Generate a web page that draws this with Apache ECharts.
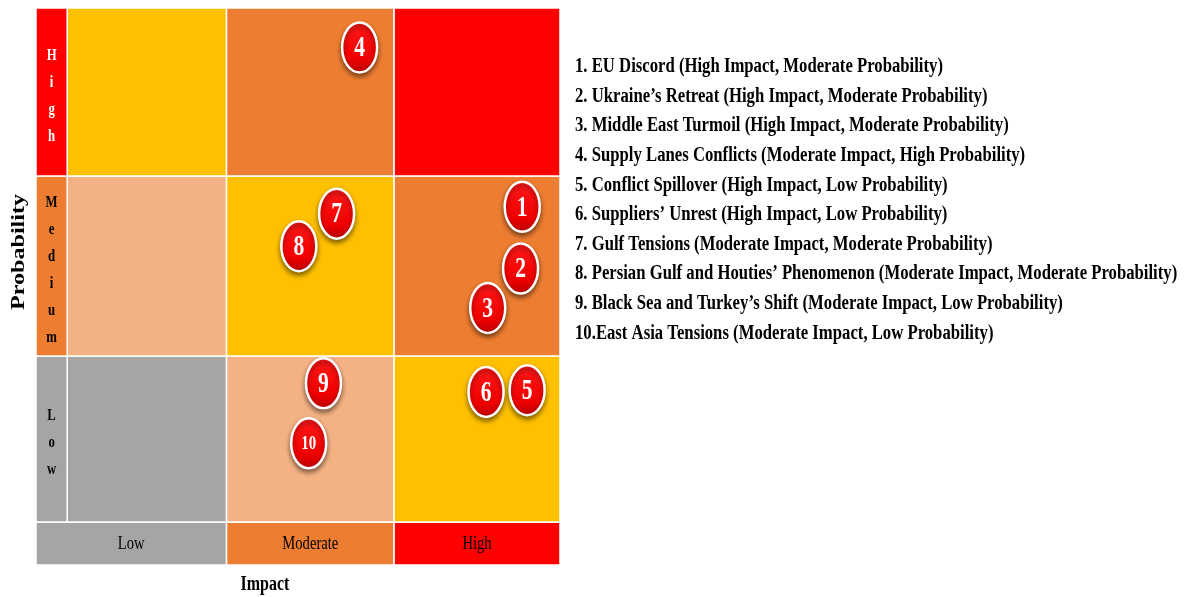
<!DOCTYPE html>
<html><head><meta charset="utf-8">
<script src="https://cdn.jsdelivr.net/npm/echarts@6/dist/echarts.min.js"></script>
<style>html,body{margin:0;padding:0;background:#fff}#c{width:1186px;height:597px}</style>
</head><body><div id="c"></div>
<script>
// ---------------- data ----------------
const impactLevels = ['Low', 'Moderate', 'High'];
const probabilityLevels = ['Low', 'Medium', 'High'];
// band boundaries on the value axes
const impactEdges = [0, 0.97, 1.99, 3];
const probabilityEdges = [0, 0.97, 2.02, 3];

const riskIds = [1, 2, 3, 4, 5, 6, 7, 8, 9, 10];
const riskNames = ['EU Discord', 'Ukraine’s Retreat', 'Middle East Turmoil', 'Supply Lanes Conflicts',
  'Conflict Spillover', 'Suppliers’ Unrest', 'Gulf Tensions', 'Persian Gulf and Houties’ Phenomenon',
  'Black Sea and Turkey’s Shift', 'East Asia Tensions'];
const riskImpact = ['High', 'High', 'High', 'Moderate', 'High', 'High', 'Moderate', 'Moderate', 'Moderate', 'Moderate'];
const riskProbability = ['Moderate', 'Moderate', 'Moderate', 'High', 'Low', 'Low', 'Moderate', 'Moderate', 'Low', 'Low'];
const riskImpactScore = [2.77, 2.76, 2.56, 1.78, 2.80, 2.55, 1.64, 1.41, 1.56, 1.47];
const riskProbabilityScore = [1.84, 1.48, 1.25, 2.77, 0.77, 0.76, 1.80, 1.61, 0.81, 0.46];

// ---------------- styles ----------------
const levelColors = ['#A5A5A5', '#F4B183', '#FFC000', '#ED7D31', '#FF0000'];
const headerColors = ['#A5A5A5', '#ED7D31', '#FF0000'];
const rowLabelTextColors = ['#000', '#000', '#fff'];
const SERIF = '"Liberation Serif", "Times New Roman", serif';

const cellData = [];
for (let i = 0; i < 3; i++) for (let j = 0; j < 3; j++) cellData.push([i, j]);
const riskData = riskIds.map((id, k) => [riskImpactScore[k], riskProbabilityScore[k], id]);

const legendLines = riskIds.map((id, k) =>
  id + '.' + (id < 10 ? ' ' : '') + riskNames[k] + ' (' + riskImpact[k] + ' Impact, ' + riskProbability[k] + ' Probability)');

function cellRender(params, api) {
  const i = api.value(0), j = api.value(1);
  const p0 = api.coord([impactEdges[i], probabilityEdges[j]]);
  const p1 = api.coord([impactEdges[i + 1], probabilityEdges[j + 1]]);
  return {
    type: 'rect',
    shape: { x: p0[0], y: p1[1], width: p1[0] - p0[0], height: p0[1] - p1[1] },
    style: { fill: levelColors[i + j], stroke: '#ffffff', lineWidth: 1.5 }
  };
}

function rowLabelRender(params, api) {
  const j = api.value(0);
  const cs = params.coordSys;
  const left = cs.x;
  const right = api.coord([0, 0])[0];
  const bottom = api.coord([0, probabilityEdges[j]])[1];
  const top = api.coord([0, probabilityEdges[j + 1]])[1];
  const label = probabilityLevels[j];
  return {
    type: 'group',
    children: [
      { type: 'rect', shape: { x: left, y: top, width: right - left, height: bottom - top },
        style: { fill: headerColors[j], stroke: '#ffffff', lineWidth: 1.5 } },
      { type: 'text', x: (left + right) / 2, y: (top + bottom) / 2 + 4, scaleX: 0.75,
        style: { text: label.split('').join('\n'), fill: rowLabelTextColors[j],
          font: 'bold 17px ' + SERIF, lineHeight: 27,
          align: 'center', textAlign: 'center', verticalAlign: 'middle', textVerticalAlign: 'middle' } }
    ]
  };
}

function colLabelRender(params, api) {
  const i = api.value(0);
  const cs = params.coordSys;
  const left = i === 0 ? cs.x : api.coord([impactEdges[i], 0])[0];
  const right = api.coord([impactEdges[i + 1], 0])[0];
  const top = api.coord([0, 0])[1];
  const bottom = cs.y + cs.height;
  return {
    type: 'group',
    children: [
      { type: 'rect', shape: { x: left, y: top, width: right - left, height: bottom - top },
        style: { fill: headerColors[i], stroke: '#ffffff', lineWidth: 1.5 } },
      { type: 'text', x: (left + right) / 2, y: (top + bottom) / 2, scaleX: 0.77,
        style: { text: impactLevels[i], fill: '#000', font: '19px ' + SERIF,
          align: 'center', textAlign: 'center', verticalAlign: 'middle', textVerticalAlign: 'middle' } }
    ]
  };
}

function riskRender(params, api) {
  const pt = api.coord([api.value(0), api.value(1)]);
  const id = api.value(2);
  const big = id >= 10;
  return {
    type: 'group',
    x: pt[0], y: pt[1],
    children: [
      { type: 'ellipse', shape: { cx: 0, cy: 0, rx: 17.5, ry: 25 },
        style: {
          fill: { type: 'linear', x: 0, y: 0, x2: 0, y2: 1,
            colorStops: [{ offset: 0, color: '#ff1a1a' }, { offset: 0.7, color: '#f00000' }, { offset: 1, color: '#b80000' }] },
          stroke: '#ffffff', lineWidth: 2.5,
          shadowBlur: 5, shadowOffsetY: 3, shadowColor: 'rgba(0,0,0,0.45)'
        } },
      { type: 'text', x: 0, y: 1, scaleX: big ? 0.78 : 0.72,
        style: { text: String(id), fill: '#ffffff', font: 'bold ' + (big ? 19 : 30) + 'px ' + SERIF,
          align: 'center', textAlign: 'center', verticalAlign: 'middle', textVerticalAlign: 'middle' } }
    ]
  };
}

const graphics = legendLines.map((t, k) => ({
  type: 'text', x: 575, y: 67 + 29.6 * k, scaleX: 0.835,
  style: { text: t, fill: '#000', font: 'bold 20px ' + SERIF, textVerticalAlign: 'middle', verticalAlign: 'middle' }
}));
graphics.push({
  type: 'text', x: 19, y: 252, rotation: Math.PI / 2, scaleX: 1.34,
  style: { text: 'Probability', fill: '#000', font: 'bold 18px ' + SERIF,
    textAlign: 'center', align: 'center', textVerticalAlign: 'middle', verticalAlign: 'middle' }
});
graphics.push({
  type: 'text', x: 265, y: 585, scaleX: 0.8,
  style: { text: 'Impact', fill: '#000', font: 'bold 20px ' + SERIF,
    textAlign: 'center', align: 'center', textVerticalAlign: 'middle', verticalAlign: 'middle' }
});

const chart = echarts.init(document.getElementById('c'), null, { renderer: 'canvas' });
chart.setOption({
  animation: false,
  backgroundColor: '#ffffff',
  grid: { left: 36, top: 8, width: 524, height: 557 },
  xAxis: { type: 'value', min: -0.19, max: 3, show: false },
  yAxis: { type: 'value', min: -0.25, max: 3, show: false },
  series: [
    { type: 'custom', renderItem: cellRender, data: cellData, silent: true, z: 1 },
    { type: 'custom', renderItem: rowLabelRender, data: [[0], [1], [2]], encode: { x: -1, y: -1 }, silent: true, z: 2 },
    { type: 'custom', renderItem: colLabelRender, data: [[0], [1], [2]], encode: { x: -1, y: -1 }, silent: true, z: 2 },
    { type: 'custom', renderItem: riskRender, data: riskData, encode: { x: 0, y: 1 }, silent: true, z: 5 }
  ],
  graphic: graphics
});
</script></body></html>
